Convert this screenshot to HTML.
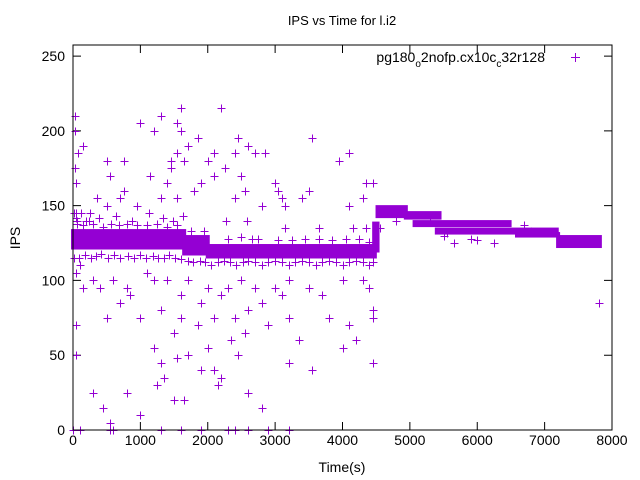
<!DOCTYPE html>
<html><head><meta charset="utf-8"><style>
body{margin:0;background:#fff;}
svg{display:block;font-family:"Liberation Sans",sans-serif;}
</style></head><body>
<svg id="c" width="640" height="480">
<text x="342" y="25" font-size="13" text-anchor="middle">IPS vs Time for l.i2</text>
<text x="20" y="238" font-size="14" text-anchor="middle" transform="rotate(-90 20 238)">IPS</text>
<text x="342" y="472" font-size="14" text-anchor="middle">Time(s)</text>
<g id="ax"></g>
<g id="marks"></g>
<rect x="73" y="45" width="539" height="385" fill="none" stroke="#000" stroke-width="1"/>
<g>
<text x="545" y="62" font-size="14" text-anchor="end">pg180<tspan font-size="10" dy="5">o</tspan><tspan dy="-5">2nofp.cx10c</tspan><tspan font-size="10" dy="5">c</tspan><tspan dy="-5">32r128</tspan></text>
<path d="M571 57.5h9M575.5 53v9" stroke="#9400d3" stroke-width="1"/>
</g>
</svg>
<script>
const xTicks=[0,1000,2000,3000,4000,5000,6000,7000,8000];
const yTicks=[0,50,100,150,200,250];
// dense clusters: start time, end time, low IPS, high IPS
const bandStart=[0,1650,2000,4470,4520,4940,5070,5400,6590,7200];
const bandEnd=[1650,2000,4480,4520,4940,5440,6480,7180,7200,7820];
const bandLow=[122,118,116,120,143,142,137,132,130,123];
const bandHigh=[133,129,123,138,149,145,139,134,131,129];
// individual outlier samples
const times=[30,30,1300,1600,2200,1000,1550,1200,1600,1850,2450,3550,1700,150,2600,2850,2400,2700,2100,2000,750,1450,1650,3950,4100,80,25,500,1550,1450,2250,1150,550,50,2100,2500,3000,3500,4350,4450,1400,1900,750,3050,2550,1300,1800,700,2400,2800,3150,3100,3400,4100,4300,950,500,350,1550,
100,50,300,150,400,600,800,1200,1400,1700,2000,2300,2500,2700,3000,3200,3500,4000,4300,850,1100,1600,1900,2200,2800,3100,3700,4400,700,500,1000,1300,1600,2100,2400,2600,2900,3200,3800,4100,4450,50,1500,1850,2350,2550,3350,4200,4000,1200,1700,2000,2450,1300,1550,1900,2100,3200,3550,4450,50,1350,2200,1250,2150,800,300,2600,1500,1650,2800,450,1000,550,0,100,550,600,1300,1600,2300,2400,2600,2900,3200,1900,7800,4450,
6250,5650,5900,6000,4800,4550,5500,5550,6700,6800,5300,60,120,200,250,10,40,
20,90,180,260,340,420,520,610,700,820,900,1000,1080,1180,1260,1350,1430,1520,1600,1700,1780,1880,1960,2050,2150,2240,2330,2420,2520,2600,2700,2800,2900,3000,3100,3200,3300,3400,3500,3600,3700,3800,3900,4000,4100,4200,4300,4400,4450,
60,150,300,450,560,680,800,950,1100,1250,1400,1550,1750,1950,2300,2500,2650,2750,3050,3250,3450,3650,3850,4050,4250,4400,
40,240,380,640,880,1130,1330,1480,1640,2270,2580,3150,3650,4150,4350];
const ips=[210,200,210,215,215,205,205,200,200,195,195,195,190,190,190,185,185,185,185,180,180,180,180,180,185,185,175,180,185,175,175,170,170,165,170,170,165,160,165,165,165,165,160,160,160,155,160,155,155,150,150,155,155,150,155,150,150,155,155,
110,105,100,95,95,100,95,100,100,100,95,95,100,95,95,100,95,100,100,90,105,90,85,90,85,90,90,95,85,75,75,80,75,75,75,80,70,75,75,70,80,70,65,70,60,65,60,60,55,55,50,55,50,45,48,40,40,45,40,45,50,35,35,30,30,25,25,25,20,20,15,15,10,5,0,0,0,0,0,0,0,0,0,0,0,0,85,75,
125,125,128,127,140,135,130,132,137,133,140,140,145,140,145,145,142,
115,115,117,115,116,118,115,117,115,116,115,117,115,116,115,115,117,115,114,113,112,113,112,110,112,113,112,110,112,113,112,110,112,113,112,110,112,113,112,110,112,113,112,110,112,113,112,110,112,
138,137,138,136,138,137,138,137,137,138,136,137,133,133,128,129,128,128,127,127,128,128,127,128,128,126,
145,140,142,143,140,145,142,140,143,140,140,135,135,135,135];
const X0=73,X1=612,Y0=430,Y1=45,YMAX=257.4;
const sx=t=>X0+(t/8000)*(X1-X0);
const sy=v=>Y0-(v/YMAX)*(Y0-Y1);
const NS='http://www.w3.org/2000/svg';
const ax=document.getElementById('ax'),mk=document.getElementById('marks');
xTicks.forEach(t=>{
 const x=sx(t);
 const p=document.createElementNS(NS,'path');
 p.setAttribute('d',`M${x} ${Y0}v-8M${x} ${Y1}v8`);p.setAttribute('stroke','#000');
 
 
 ax.appendChild(p);
 const l=document.createElementNS(NS,'text');
 l.setAttribute('x',x);l.setAttribute('y',Y0+15);l.setAttribute('font-size','14');l.setAttribute('text-anchor','middle');
 l.textContent=t;
 
 
 ax.appendChild(l);
});
yTicks.forEach(v=>{
 const y=sy(v);
 const p=document.createElementNS(NS,'path');
 p.setAttribute('d',`M${X0} ${y}h8M${X1} ${y}h-8`);p.setAttribute('stroke','#000');
 
 
 ax.appendChild(p);
 const l=document.createElementNS(NS,'text');
 l.setAttribute('x',X0-8);l.setAttribute('y',y+5);l.setAttribute('font-size','14');l.setAttribute('text-anchor','end');
 l.textContent=v;
 
 
 ax.appendChild(l);
});
const C='#9400d3';
bandStart.forEach((s,i)=>{
 const r=document.createElementNS(NS,'rect');
 const x0=sx(s)-2,x1=sx(bandEnd[i])+2,y0=sy(bandHigh[i])-2,y1=sy(bandLow[i])+2;
 r.setAttribute('x',x0);r.setAttribute('y',y0);r.setAttribute('width',x1-x0);r.setAttribute('height',y1-y0);
 r.setAttribute('fill',C);
 
 
 mk.appendChild(r);
});
times.forEach((t,i)=>{
 const x=Math.round(sx(t))+0.5,y=Math.round(sy(ips[i]))+0.5;
 const p=document.createElementNS(NS,'path');
 p.setAttribute('d',`M${x-4} ${y}h8M${x} ${y-4}v8`);
 p.setAttribute('stroke',C);
 
 
 mk.appendChild(p);
});
</script>
</body></html>
